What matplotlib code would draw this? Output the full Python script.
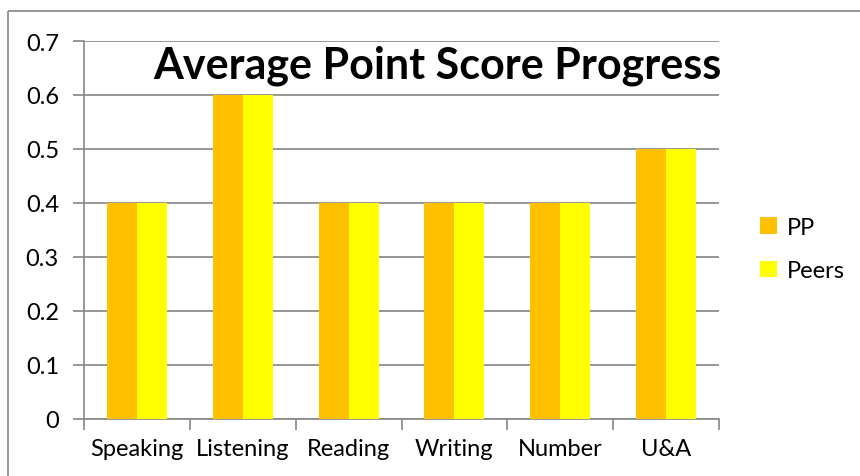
import matplotlib
matplotlib.use("Agg")
import matplotlib.pyplot as plt
from matplotlib.patches import Rectangle
import numpy as np

categories = ["Speaking", "Listening", "Reading", "Writing", "Number", "U&A"]
pp = [0.4, 0.6, 0.4, 0.4, 0.4, 0.5]
peers = [0.4, 0.6, 0.4, 0.4, 0.4, 0.5]
series_names = ["PP", "Peers"]
title = "Average Point Score Progress"
yticks = [0, 0.1, 0.2, 0.3, 0.4, 0.5, 0.6, 0.7]

W, H = 860, 477
fig = plt.figure(figsize=(W / 100, H / 100), dpi=100)
plt.rcParams['font.family'] = ['Lato', 'DejaVu Sans']
grey = "#868686"

# figure border
fig.patches.append(Rectangle((8 / W, 1 - 12 / H), 2, -2, transform=fig.transFigure,
                             fill=False, edgecolor=grey, linewidth=1.2))

ax = fig.add_axes([84 / W, 57 / H, 635 / W, 378 / H])
x = np.arange(len(categories))
bw = 0.283
ax.bar(x - bw / 2, pp, bw, color="#FFC000", label=series_names[0], zorder=3)
ax.bar(x + bw / 2, peers, bw, color="#FFFF00", label=series_names[1], zorder=3)

ax.set_xlim(-0.5, len(categories) - 0.5)
ax.set_ylim(0, 0.7)
ax.set_yticks(yticks)
ax.set_yticklabels([f"{v:g}" for v in yticks], fontsize=17)
ax.yaxis.grid(True, color=grey, linewidth=1.2, zorder=0)
ax.tick_params(axis='y', length=8, color=grey, width=1.2, pad=10)

ax.set_xticks(np.arange(len(categories) + 1) - 0.5)
ax.set_xticklabels([])
ax.set_xticks(x, minor=True)
ax.set_xticklabels(categories, minor=True, fontsize=17)
ax.tick_params(axis='x', which='major', length=8, color=grey, width=1.2)
ax.tick_params(axis='x', which='minor', length=0, pad=14)

for s in ["top", "right"]:
    ax.spines[s].set_visible(False)
for s in ["left", "bottom"]:
    ax.spines[s].set_color(grey)
    ax.spines[s].set_linewidth(1.2)

fig.text(437 / W, 1 - 66 / H, title, fontsize=31, fontweight='bold',
         ha='center', va='center')

fig.legend(loc='center left', bbox_to_anchor=(760 / W, 1 - 250 / H), frameon=False,
           fontsize=17, handlelength=0.7, handleheight=0.7, labelspacing=0.95,
           borderaxespad=0, borderpad=0, handletextpad=0.45)

fig.savefig("out.png", dpi=100)
